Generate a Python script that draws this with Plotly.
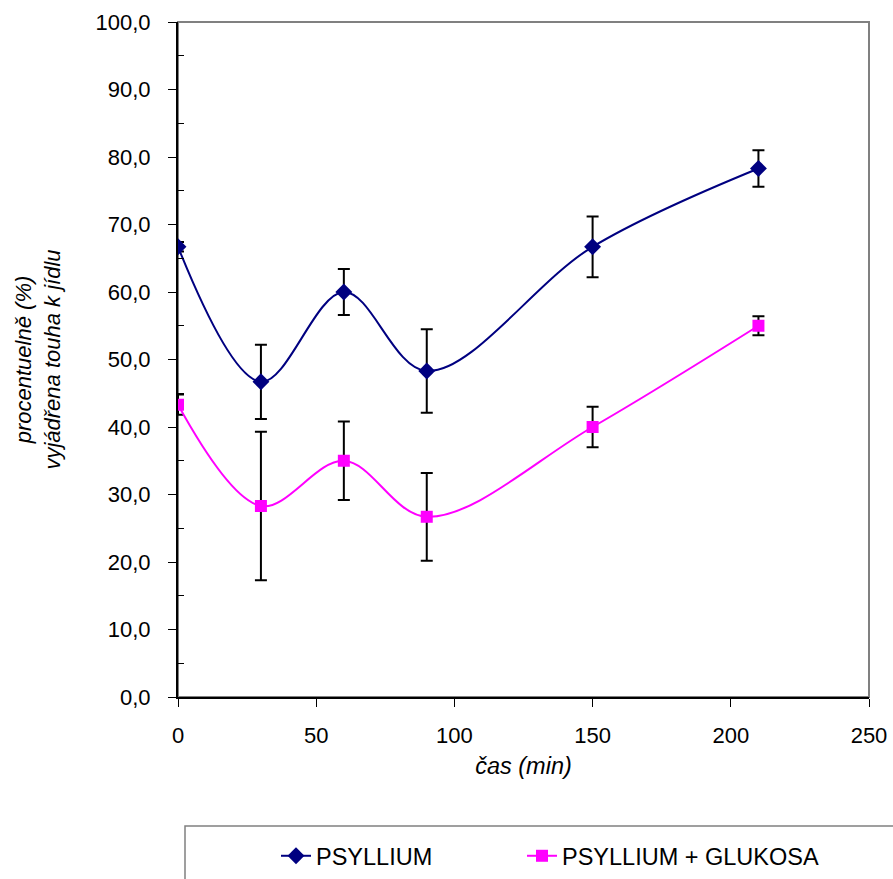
import plotly.graph_objects as go

time_min = [0, 30, 60, 90, 150, 210]
psyllium = [66.7, 46.7, 60.0, 48.3, 66.7, 78.3]
psyllium_err = [0.7, 5.5, 3.4, 6.2, 4.5, 2.7]
glukosa = [43.3, 28.3, 35.0, 26.7, 40.0, 55.0]
glukosa_err = [1.5, 11.0, 5.8, 6.5, 3.0, 1.4]

names = ["PSYLLIUM", "PSYLLIUM + GLUKOSA"]
FONT = "Liberation Sans, Arial, sans-serif"
FS = 22

fig = go.Figure()
fig.add_trace(go.Scatter(
    x=time_min, y=psyllium, name=names[0], mode="lines+markers", legend="legend",
    line=dict(color="#000080", width=2, shape="spline", smoothing=1),
    marker=dict(symbol="diamond", size=13, color="#000080"),
    error_y=dict(type="data", array=psyllium_err, visible=True,
                 color="black", thickness=2, width=6),
))
fig.add_trace(go.Scatter(
    x=time_min, y=glukosa, name=names[1], mode="lines+markers", legend="legend2",
    line=dict(color="#FF00FF", width=2, shape="spline", smoothing=1),
    marker=dict(symbol="square", size=12, color="#FF00FF"),
    error_y=dict(type="data", array=glukosa_err, visible=True,
                 color="black", thickness=2, width=6),
))

fig.add_shape(type="rect", xref="paper", yref="paper", x0=0, y0=0, x1=1, y1=1,
              line=dict(color="#808080", width=2), layer="below")
# legend frame
fig.add_shape(type="rect", xref="paper", yref="paper",
              x0=(185 - 178) / 691, x1=(900 - 178) / 691,
              y0=(697 - 885) / 675, y1=(697 - 826) / 675,
              line=dict(color="#808080", width=1.5), layer="below")

leg_common = dict(orientation="h", xanchor="left", yref="container",
                  y=(879 - 856) / 879, yanchor="middle",
                  bgcolor="rgba(0,0,0,0)",
                  font=dict(size=23.5, family=FONT))

fig.update_layout(
    width=893, height=879,
    margin=dict(l=178, r=24, t=22, b=182),
    paper_bgcolor="white", plot_bgcolor="white",
    separators=", ",
    font=dict(family=FONT, size=FS, color="black"),
    showlegend=True,
    legend=dict(x=(276 - 178) / 691, **leg_common),
    legend2=dict(x=(522 - 178) / 691, **leg_common),
    xaxis=dict(range=[0, 250], tickvals=[0, 50, 100, 150, 200, 250],
               automargin=False,
               showgrid=False, zeroline=False, showline=True,
               linecolor="black", linewidth=2, ticks="outside",
               ticklen=8, tickwidth=1, tickcolor="black",
               ticklabelstandoff=10,
               title=dict(text="<i>čas (min)</i>", standoff=10,
                          font=dict(size=23.5))),
    yaxis=dict(range=[0, 100], tickvals=[0, 10, 20, 30, 40, 50, 60, 70, 80, 90, 100],
               automargin=False,
               tickformat=".1f", showgrid=False, zeroline=False, showline=True,
               linecolor="black", linewidth=2, ticks="outside",
               ticklen=8, tickwidth=1, tickcolor="black",
               ticklabelstandoff=13,
               minor=dict(tickvals=[5, 15, 25, 35, 45, 55, 65, 75, 85, 95],
                          ticks="inside", ticklen=6, tickcolor="black", tickwidth=1),
               title=dict(text="<i>procentuelně (%)<br>vyjádřena touha k jídlu</i>",
                          standoff=29, font=dict(size=FS))),
)

fig.write_html("out.html", config={"displayModeBar": False},
               post_script="document.body.style.margin='0';document.body.style.overflow='hidden';")
